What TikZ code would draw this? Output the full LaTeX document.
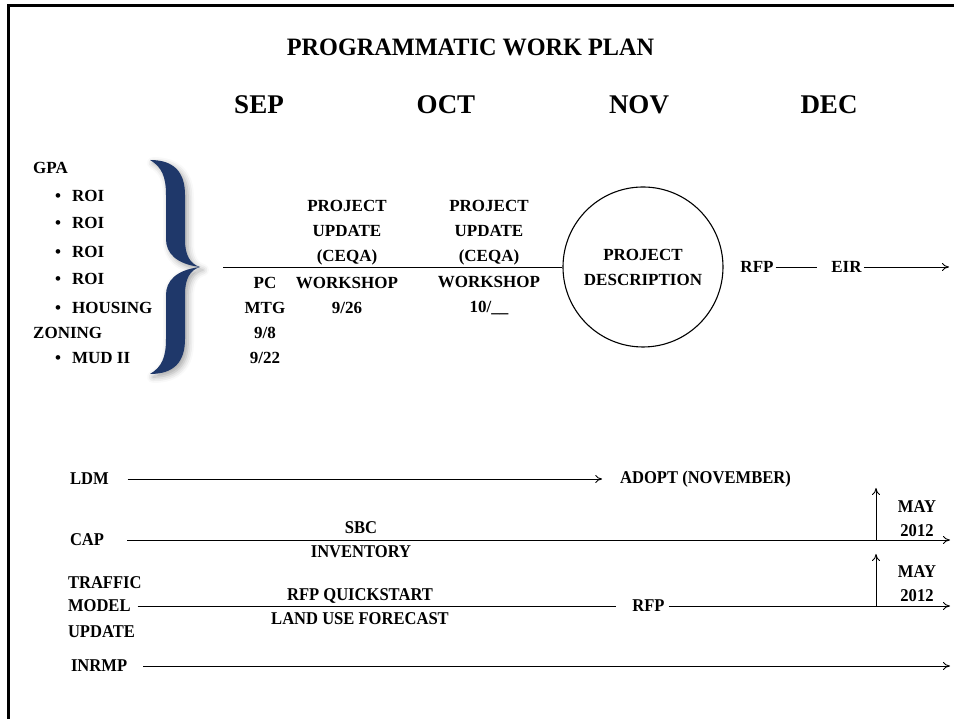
\documentclass[tikz,border=0pt]{standalone}
\usepackage{fontspec}
\setmainfont{Liberation Serif}
\usetikzlibrary{arrows.meta,shadows.blur}

\definecolor{braceblue}{RGB}{31,56,106}

\tikzset{
	heading/.style={font=\fontsize{25}{28}\selectfont\bfseries, xscale=0.97},
	month/.style={font=\fontsize{27}{30}\selectfont\bfseries},
	txt/.style={font=\fontsize{17}{25}\selectfont\bfseries, align=center, inner sep=2pt},
	lowtxt/.style={font=\fontsize{18}{24}\selectfont\bfseries, align=center, inner sep=2pt, xscale=0.92},
	plainline/.style={line width=0.9pt},
	timeline/.style={line width=0.9pt, -{To[length=7pt,width=8pt]}},
}

\begin{document}
\begin{tikzpicture}[x=10pt, y=10pt]
			%%%%% START %%%%%
			
			\useasboundingbox (0, 0) rectangle (95.4, 71.9);
			\draw[line width=2.7pt] (0.83, 0) -- (0.83, 71.37) -- (95.4, 71.37);
			
			\node[heading] (title) at (47.05, 67.2) {PROGRAMMATIC WORK PLAN};
			
			\node[month] (sep) at (25.9, 61.4) {SEP};
			\node[month] (oct) at (44.6, 61.4) {OCT};
			\node[month] (nov) at (63.9, 61.4) {NOV};
			\node[month] (dec) at (82.9, 61.4) {DEC};
			
			%%%%% GPA / ZONING %%%%%
			
			\node[txt, anchor=west] (gpa) at (3.1, 55.1) {GPA};
			\node[txt, anchor=west] (roi-a) at (5.3, 52.3) {\textbullet\hspace{11pt}ROI};
			\node[txt, anchor=west] (roi-b) at (5.3, 49.6) {\textbullet\hspace{11pt}ROI};
			\node[txt, anchor=west] (roi-c) at (5.3, 46.7) {\textbullet\hspace{11pt}ROI};
			\node[txt, anchor=west] (roi-d) at (5.3, 44.0) {\textbullet\hspace{11pt}ROI};
			\node[txt, anchor=west] (housing) at (5.3, 41.1) {\textbullet\hspace{11pt}HOUSING};
			\node[txt, anchor=west] (zoning) at (3.1, 38.6) {ZONING};
			\node[txt, anchor=west] (mud) at (5.3, 36.1) {\textbullet\hspace{11pt}MUD II};
			
			\coordinate (gpa-tip) at (20.0, 45.2);
			\fill[braceblue, blur shadow={shadow xshift=3pt, shadow yshift=-3pt, shadow blur radius=6pt, shadow opacity=35}]
				(15.0, 55.9) .. controls (17.4, 55.9) and (18.5, 54.7) .. (18.5, 52.4)
				-- (18.5, 47.9) .. controls (18.5, 46.4) and (19.0, 45.5) .. (gpa-tip)
				.. controls (19.0, 44.9) and (18.5, 44.0) .. (18.5, 42.5)
				-- (18.5, 38.0) .. controls (18.5, 35.7) and (17.4, 34.5) .. (15.0, 34.5)
				.. controls (16.2, 35.2) and (16.6, 36.2) .. (16.6, 38.0)
				-- (16.6, 42.4) .. controls (16.6, 43.8) and (17.6, 44.9) .. (gpa-tip)
				.. controls (17.6, 45.5) and (16.6, 46.6) .. (16.6, 48.0)
				-- (16.6, 52.4) .. controls (16.6, 54.2) and (16.2, 55.2) .. (15.0, 55.9) -- cycle;
			
			%%%%% MAIN TIMELINE %%%%%
			
			\node[txt, draw, circle, line width=1.1pt, minimum size=160pt, inner sep=0pt] (desc) at (64.3, 45.2) {PROJECT\\DESCRIPTION};
			\node[txt] (rfp-a) at (75.7, 45.2) {RFP};
			\node[txt] (eir) at (84.65, 45.2) {EIR};
			\coordinate (eir-end) at (94.9, 45.2);
			
			\draw[plainline, shorten <=23pt] (gpa-tip) -- (desc);
			\draw[plainline, shorten >=12pt] (rfp-a) -- (eir);
			\draw[timeline] (eir) -- (eir-end);
			
			\node[txt] (pc) at (26.5, 39.9) {PC\\MTG\\9/8\\9/22};
			\node[txt] (upd-a) at (34.7, 48.6) {PROJECT\\UPDATE\\(CEQA)};
			\node[txt] (ws-a) at (34.7, 42.35) {WORKSHOP\\9/26};
			\node[txt] (upd-b) at (48.9, 48.6) {PROJECT\\UPDATE\\(CEQA)};
			\node[txt] (ws-b) at (48.9, 42.35) {WORKSHOP\\10/\_\_};
			
			%%%%% LDM %%%%%
			
			\node[lowtxt, anchor=west] (ldm) at (6.8, 24.0) {LDM};
			\node[lowtxt] (adopt) at (70.55, 24.0) {ADOPT (NOVEMBER)};
			\draw[timeline, shorten <=17pt, shorten >=16pt] (ldm) -- (adopt);
			
			%%%%% CAP %%%%%
			
			\node[lowtxt, anchor=west] (cap) at (6.8, 17.9) {CAP};
			\node[lowtxt] (sbc) at (36.1, 17.9) {SBC\\INVENTORY};
			\coordinate (cap-end) at (95.0, 17.9);
			\draw[timeline, shorten <=21pt] (cap) -- (cap-end);
			
			\node[lowtxt] (may-a) at (91.7, 20.0) {MAY\\2012};
			\coordinate (may-a-base) at (87.6, 17.9);
			\coordinate (may-a-top) at (87.6, 23.1);
			\draw[timeline] (may-a-base) -- (may-a-top);
			
			%%%%% TRAFFIC MODEL %%%%%
			
			\node[lowtxt, anchor=west] (traffic) at (6.6, 13.6) {TRAFFIC};
			\node[lowtxt, anchor=west] (model) at (6.6, 11.3) {MODEL};
			\node[lowtxt, anchor=west] (update) at (6.6, 8.7) {UPDATE};
			\node[lowtxt] (quick) at (36.0, 11.25) {RFP QUICKSTART\\LAND USE FORECAST};
			\node[lowtxt] (rfp-b) at (64.85, 11.3) {RFP};
			\coordinate (traffic-end) at (95.0, 11.3);
			\draw[plainline, shorten <=5pt, shorten >=14pt] (model) -- (rfp-b);
			\draw[timeline, shorten <=2pt] (rfp-b) -- (traffic-end);
			
			\node[lowtxt] (may-b) at (91.7, 13.55) {MAY\\2012};
			\coordinate (may-b-base) at (87.6, 11.3);
			\coordinate (may-b-top) at (87.6, 16.5);
			\draw[timeline] (may-b-base) -- (may-b-top);
			
			%%%%% INRMP %%%%%
			
			\node[lowtxt, anchor=west] (inrmp) at (6.9, 5.3) {INRMP};
			\coordinate (inrmp-end) at (95.0, 5.3);
			\draw[timeline, shorten <=14pt] (inrmp) -- (inrmp-end);
			
			%%%%% END %%%%%
\end{tikzpicture}
\end{document}
